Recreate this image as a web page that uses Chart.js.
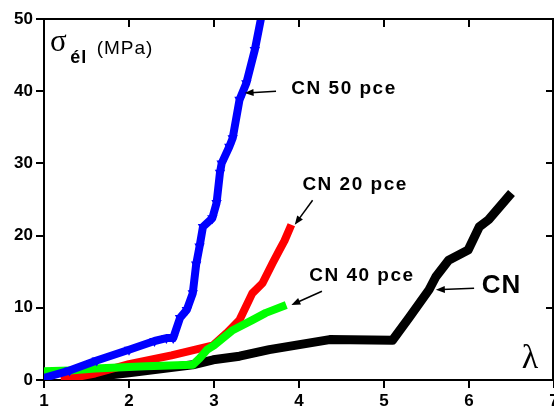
<!DOCTYPE html>
<html>
<head>
<meta charset="utf-8">
<script src="https://cdn.jsdelivr.net/npm/chart.js@4/dist/chart.umd.min.js"></script>
<style>
  html, body { margin: 0; padding: 0; background: #fff; overflow: hidden; }
  #wrap { width: 554px; height: 407px; }
</style>
</head>
<body>
<div id="wrap"><canvas id="myChart" width="554" height="407"></canvas></div>
<script>
// lambda (x) and sigma (MPa)
let cn50Lambda = [1.0, 1.3, 1.62, 2.0, 2.3, 2.44, 2.52, 2.6, 2.68, 2.75, 2.79, 2.83, 2.87, 2.98, 3.03, 3.07, 3.09, 3.18, 3.22, 3.30, 3.38, 3.48, 3.56];
let cn50Sigma  = [0.3, 1.3, 2.7, 4.2, 5.4, 5.8, 5.8, 8.6, 9.7, 12, 16, 18.5, 21.2, 22.4, 24.5, 28.7, 30, 32.3, 33.5, 38.8, 41.1, 45.7, 50.5];

let cn40Lambda = [1.0, 1.3, 1.6, 2.2, 2.75, 2.83, 2.92, 3.0, 3.22, 3.45, 3.61, 3.85];
let cn40Sigma  = [1.2, 1.3, 1.6, 1.9, 2.1, 3.0, 4.2, 4.8, 6.9, 8.3, 9.3, 10.4];

let cn20Lambda = [1.2, 1.6, 2.0, 2.5, 2.99, 3.15, 3.3, 3.45, 3.57, 3.69, 3.77, 3.83, 3.91];
let cn20Sigma  = [0, 0.9, 2.2, 3.4, 4.8, 6.5, 8.3, 12, 13.4, 16.2, 18, 19.3, 21.5];

let cnLambda = [1.25, 2.0, 2.75, 2.99, 3.3, 3.65, 4.36, 5.1, 5.3, 5.53, 5.61, 5.76, 5.99, 6.12, 6.23, 6.5];
let cnSigma  = [0, 1.0, 2.1, 2.8, 3.3, 4.2, 5.6, 5.5, 8.7, 12.5, 14.3, 16.6, 18, 21.2, 22.2, 25.9];

let xTicks = [1, 2, 3, 4, 5, 6, 7];
let yTicks = [0, 10, 20, 30, 40, 50];

function pts(xs, ys) {
  return xs.map((x, i) => ({ x: x, y: ys[i] }));
}

const fontFam = "'Liberation Sans', Arial, sans-serif";

// frame on top/right with inward ticks
const frame = {
  id: "frame",
  afterDraw(chart) {
    const c = chart.ctx, a = chart.chartArea;
    const sx = chart.scales.x, sy = chart.scales.y;
    c.save();
    c.strokeStyle = "#000";
    c.lineWidth = 2;
    c.beginPath();
    c.moveTo(a.left, a.top); c.lineTo(a.right - 1, a.top);
    c.moveTo(a.right - 1, a.top); c.lineTo(a.right - 1, a.bottom);
    xTicks.forEach(v => {
      const px = Math.round(sx.getPixelForValue(v));
      c.moveTo(px, a.top); c.lineTo(px, a.top + 8);
    });
    yTicks.forEach(v => {
      const py = Math.round(sy.getPixelForValue(v));
      c.moveTo(a.right, py); c.lineTo(a.right - 8, py);
    });
    c.stroke();
    c.restore();
  }
};

function arrow(c, x1, y1, x2, y2) {
  const ang = Math.atan2(y2 - y1, x2 - x1);
  c.beginPath();
  c.moveTo(x1, y1);
  c.lineTo(x2 - Math.cos(ang) * 6, y2 - Math.sin(ang) * 6);
  c.stroke();
  c.beginPath();
  c.moveTo(x2, y2);
  c.lineTo(x2 - 9 * Math.cos(ang) + 3.5 * Math.sin(ang), y2 - 9 * Math.sin(ang) - 3.5 * Math.cos(ang));
  c.lineTo(x2 - 9 * Math.cos(ang) - 3.5 * Math.sin(ang), y2 - 9 * Math.sin(ang) + 3.5 * Math.cos(ang));
  c.closePath();
  c.fill();
}

const notes = {
  id: "notes",
  afterDatasetsDraw(chart) {
    const c = chart.ctx;
    const X = v => chart.scales.x.getPixelForValue(v);
    const Y = v => chart.scales.y.getPixelForValue(v);
    c.save();
    c.fillStyle = "#000";
    c.strokeStyle = "#000";
    c.lineWidth = 1.5;
    c.textBaseline = "middle";
    c.textAlign = "left";

    c.letterSpacing = "1.5px";
    c.font = "bold 19px " + fontFam;
    c.fillText("CN 50 pce", X(3.91), Y(40.4));
    c.fillText("CN 20 pce", X(4.04), Y(27.1));
    c.fillText("CN 40 pce", X(4.12), Y(14.4));
    c.letterSpacing = "1px";
    c.font = "bold 26px " + fontFam;
    c.fillText("CN", X(6.15), Y(13.0));
    c.letterSpacing = "0px";

    arrow(c, X(3.73), Y(40.0), X(3.36), Y(39.75));
    arrow(c, X(4.16), Y(24.9), X(3.95), Y(21.5));
    arrow(c, X(4.27), Y(12.3), X(3.91), Y(10.4));
    arrow(c, X(6.06), Y(12.7), X(5.61), Y(12.5));

    // axis titles
    c.textBaseline = "alphabetic";
    c.font = "31px 'Liberation Serif', 'Times New Roman', serif";
    c.fillText("σ", X(1.07), Y(45.6));
    c.letterSpacing = "1px";
    c.font = "bold 18px " + fontFam;
    c.fillText("él", X(1.31), Y(43.9));
    c.font = "19px " + fontFam;
    c.fillText("(MPa)", X(1.62), Y(45.2));
    c.letterSpacing = "0px";
    c.font = "34px 'Liberation Serif', 'Times New Roman', serif";
    c.fillText("λ", X(6.62), Y(1.7));
    c.restore();
  }
};

let ctx = document.getElementById("myChart");

let chartt = new Chart(ctx, {
  type: "line",
  data: {
    datasets: [
      {
        label: "CN 50 pce",
        data: pts(cn50Lambda, cn50Sigma),
        borderColor: "#0000ff",
        backgroundColor: "#0000ff",
        borderWidth: 8,
        pointStyle: "triangle",
        rotation: 180,
        pointRadius: 6,
        pointBorderWidth: 0,
      },
      {
        label: "CN 40 pce",
        data: pts(cn40Lambda, cn40Sigma),
        borderColor: "#00ff00",
        borderWidth: 8,
        pointRadius: 0,
      },
      {
        label: "CN 20 pce",
        data: pts(cn20Lambda, cn20Sigma),
        borderColor: "#ff0000",
        borderWidth: 8,
        pointRadius: 0,
      },
      {
        label: "CN",
        data: pts(cnLambda, cnSigma),
        borderColor: "#000000",
        borderWidth: 9,
        pointRadius: 0,
      },
    ],
  },
  options: {
    responsive: false,
    animation: false,
    layout: { autoPadding: false, padding: { top: 19, right: 0, left: 0, bottom: 0 } },
    elements: { line: { tension: 0, borderJoinStyle: "round", borderCapStyle: "butt" } },
    plugins: {
      legend: { display: false },
      tooltip: { enabled: false },
    },
    scales: {
      x: {
        type: "linear",
        min: 1,
        max: 7,
        afterFit(s) { s.height = 27; s.paddingLeft = 0; s.paddingRight = 0; },
        afterBuildTicks(s) { s.ticks = xTicks.map(v => ({ value: v })); },
        border: { display: true, color: "#000", width: 2 },
        grid: { drawOnChartArea: false, drawTicks: true, tickLength: 8, color: "#000", lineWidth: 2 },
        ticks: { autoSkip: false, maxRotation: 0, padding: 3, color: "#000", font: { family: fontFam, size: 17, weight: "bold" } },
      },
      y: {
        min: 0,
        max: 50,
        afterFit(s) { s.width = 44; s.paddingTop = 0; s.paddingBottom = 0; },
        afterBuildTicks(s) { s.ticks = yTicks.map(v => ({ value: v })); },
        border: { display: true, color: "#000", width: 2 },
        grid: { drawOnChartArea: false, drawTicks: true, tickLength: 8, color: "#000", lineWidth: 2 },
        ticks: { padding: 3, color: "#000", font: { family: fontFam, size: 17, weight: "bold" } },
      },
    },
  },
  plugins: [frame, notes],
});
</script>
</body>
</html>
